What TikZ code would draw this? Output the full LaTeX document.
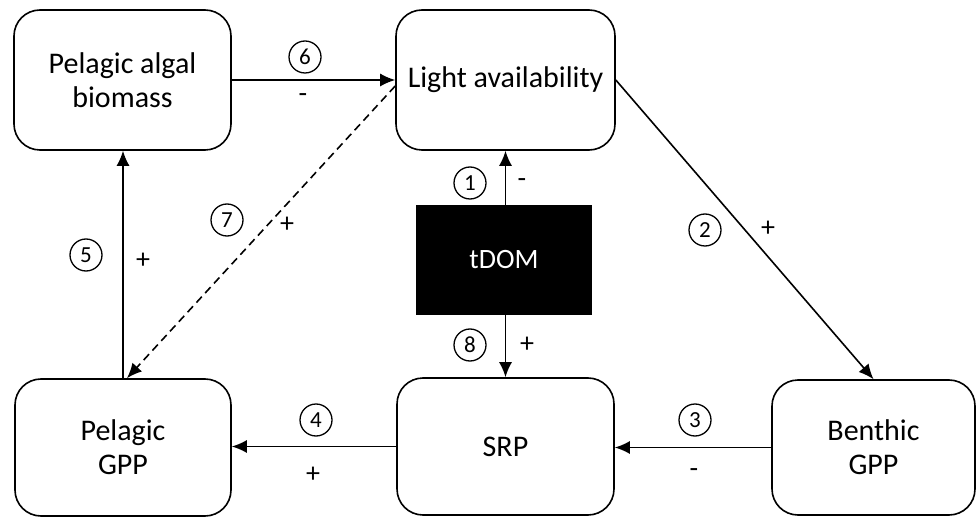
\documentclass[tikz,border=0pt]{standalone}
\usepackage{fontspec}
\setmainfont{Carlito}
\usetikzlibrary{arrows.meta}

\begin{document}
\begin{tikzpicture}[x=1pt, y=-1pt, >={Latex[length=15pt,width=13pt]},
    box/.style={draw, line width=1.6pt, rounded corners=26pt, align=center,
      inner sep=0pt, font=\fontsize{30}{34}\selectfont},
    num/.style={circle, draw, line width=1.3pt, minimum size=32pt,
      inner sep=0pt, font=\fontsize{23}{23}\selectfont},
    sign/.style={inner sep=0pt, font=\fontsize{28}{28}\selectfont},
    link/.style={->, line width=1.6pt}]
        \useasboundingbox (0,0) rectangle (976,518);
        % Boxes
        \node[box, minimum width=217pt, minimum height=140pt] (alg) at (122.5, 80)
          {Pelagic algal\\biomass};
        \node[box, minimum width=219pt, minimum height=140pt] (light) at (505.5, 80)
          {Light availability};
        \node[fill=black, text=white, minimum width=176pt, minimum height=110pt,
          font=\fontsize{28}{34}\selectfont] (tdom) at (504, 260) {tDOM};
        \node[box, minimum width=217pt, minimum height=137pt] (srp) at (505.5, 446.5)
          {SRP};
        \node[box, minimum width=216pt, minimum height=137pt] (pgpp) at (123, 447.5)
          {Pelagic\\GPP};
        \node[box, minimum width=203pt, minimum height=135pt] (bgpp) at (873.5, 447.5)
          {Benthic\\GPP};
        % Links
        \draw[link] (tdom.north -| light) -- (light.south);
        \draw[link] (light.east) -- (bgpp.north);
        \draw[link] (bgpp.west) -- (bgpp.west -| srp.east);
        \draw[link] (srp.west) -- (srp.west -| pgpp.east);
        \draw[link] (pgpp.north) -- (pgpp.north |- alg.south);
        \draw[link] (alg.east) -- (alg.east -| light.west);
        \draw[link, dash pattern=on 8pt off 5pt] ([yshift=-6pt]light.west)
          -- ([xshift=4pt]pgpp.north);
        \draw[link] (tdom.south -| srp) -- (srp.north);
        % Circled numbers
        \foreach \k/\px/\py in {1/470/183, 2/705/230, 3/695/420, 4/316/420,
            5/86/255, 6/305/57, 7/227/220, 8/470/345} {
          \node[num] (n\k) at (\px, \py) {\k};
        }
        % Signs
        \foreach \k/\s/\px/\py in {1/-/522/183, 2/+/768/229, 3/-/694/473,
            4/+/313/475, 5/+/143/261, 6/-/303/98, 7/+/287/225, 8/+/527/345} {
          \node[sign] (s\k) at (\px, \py) {\s};
        }
\end{tikzpicture}
\end{document}
